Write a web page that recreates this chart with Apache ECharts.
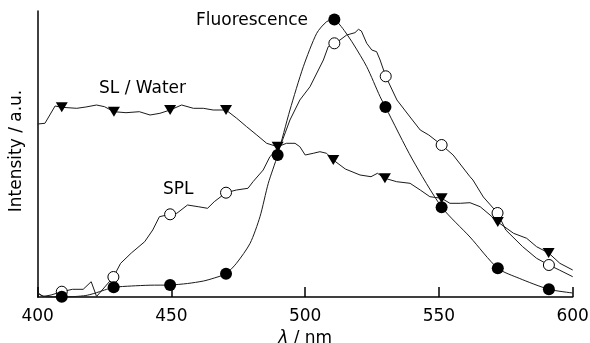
<!DOCTYPE html>
<html>
<head>
<meta charset="utf-8">
<script src="https://cdn.jsdelivr.net/npm/echarts@6/dist/echarts.min.js"></script>
<style>
html,body{margin:0;padding:0;background:#fff;}
#chart{width:590px;height:343px;}
</style>
</head>
<body>
<div id="chart"></div>
<script>
// x tick labels
const xTicks = [400, 450, 500, 550, 600];

// Fluorescence curve (wavelength nm, intensity a.u.)
const fluoLine = [[400,4],[402,1],[405,0.3],[409,0.3],[414,0.5],[418,1.5],[421,3.5],[425,7],[428.4,9.7],[435,11],[442,11.8],[449.5,12],[456,13.5],[462,16],[466,19],[470.4,23.3],[474.3,33.7],[479.4,53.7],[483.1,80.3],[486.2,113.7],[489.7,142],[494.3,187],[499.3,230.3],[504.3,263.7],[508,275.3],[510.9,277.5],[513,272],[515,265],[518,253],[523,230.3],[528,200.3],[530,190],[540,138],[551,90],[561.6,60],[572,28.7],[580,18.7],[591.1,7.7],[600,4]];
const fluoMarks = [[409,0.3],[428.4,9.7],[449.5,12],[470.4,23.3],[489.7,142],[510.9,277.5],[530,190],[551,89.7],[572,28.7],[591.1,7.7]];

// SPL curve
const splLine = [[400,4],[402,0.5],[405,2],[409,5.3],[413,7.7],[417,7.7],[420,15.3],[422,0.5],[428.3,20],[431,33.7],[435,44],[440,55.3],[443,67],[445.5,80.3],[449.5,82.7],[452,83.7],[456,92],[460,90.3],[463.5,88.7],[466,95.3],[470.4,104.3],[474.3,107],[478.6,108.7],[480.5,115.3],[484.3,127],[486.8,140.3],[490.6,150.3],[494.3,177],[498,197],[501.8,210.3],[506.8,237],[508.6,250.3],[510.9,253.7],[513,257],[515.5,262],[518.6,264.3],[519.9,267.7],[521,266],[523,253.7],[524.9,247],[526.7,245.3],[528,237],[530.1,220.7],[534.3,197],[539.2,180],[543,167],[546.2,162],[551,152],[555.3,142],[561.6,120.3],[562.7,117],[566.6,100],[571.9,84],[575,67],[581.3,50.3],[586.5,38.7],[591.1,32],[595,27],[600,20.3]];
const splMarks = [[409,5.3],[428.3,20],[449.5,82.7],[470.4,104.3],[510.9,253.7],[530.1,220.7],[551,152],[571.9,84],[591.1,32]];

// SL / Water curve
const slLine = [[400,173],[402.7,173.7],[406.5,191],[409,189.7],[414.6,188.7],[418,190],[422,192],[425,190.3],[428.5,185.3],[433,184.3],[438,185.3],[442,182],[445.7,183.7],[449.5,187],[453.8,192],[458.2,188.7],[461.9,188.7],[465.6,187],[470.4,187],[474.4,178.7],[478.1,170.3],[481.9,162],[485.6,153.7],[489.7,150.3],[493,153.7],[496.2,153.7],[498,150.3],[500,142],[503,143.7],[505.5,145.3],[508,143.7],[510.5,137],[515,128],[520.5,122],[524.6,120.3],[527,123.7],[529.8,118.7],[534.2,115.3],[539.2,113.7],[543,107],[546.6,100.3],[551,98.7],[554.1,93.7],[558,93.7],[561.6,94.3],[565.4,90.3],[569.1,82],[572,75],[577.9,63.7],[582.8,58.7],[586.5,50.3],[591,44],[595.2,33.7],[600,27]];
const slMarks = [[409,189.7],[428.5,185.3],[449.5,187],[470.4,187],[489.7,150.3],[510.5,137],[529.8,118.7],[551,98.7],[572,75],[591,44]];

const FONT = 'DejaVu Sans';
const FS = 17;
const chart = echarts.init(document.getElementById('chart'), null, {renderer: 'canvas'});
const lineStyle = {color: '#1a1a1a', width: 1};
const txt = (t, x, y, rot) => ({type: 'text', x: x, y: y, rotation: rot || 0,
  style: {text: t, font: FS + 'px "DejaVu Sans"', fill: '#000', textAlign: rot ? 'center' : 'left', textVerticalAlign: 'middle'}});
chart.setOption({
  animation: false,
  backgroundColor: '#fff',
  grid: {left: 37.7, right: 17.3, top: 11, bottom: 46, containLabel: false, outerBoundsMode: 'none'},
  xAxis: {
    type: 'value', min: 400, max: 600, interval: 50,
    axisLine: {lineStyle: {color: '#000', width: 1.5}},
    axisTick: {inside: true, length: 10, lineStyle: {color: '#000', width: 1.5}},
    axisLabel: {color: '#000', fontFamily: FONT, fontSize: FS, margin: 11,
      formatter: v => xTicks.includes(v) ? String(v) : ''},
    splitLine: {show: false},
    name: '{i|λ} / nm', nameLocation: 'middle', nameGap: 28,
    nameTextStyle: {color: '#000', fontFamily: FONT, fontSize: FS,
      rich: {i: {fontStyle: 'italic', fontFamily: FONT, fontSize: FS, color: '#000'}}}
  },
  yAxis: {
    type: 'value', min: 0, max: 286,
    axisLine: {show: true, lineStyle: {color: '#000', width: 1.5}},
    axisTick: {show: false}, axisLabel: {show: false}, splitLine: {show: false}
  },
  graphic: [
    txt('Intensity / a.u.', 17, 151, Math.PI / 2),
    txt('Fluorescence', 196, 21),
    txt('SL / Water', 99, 88.5),
    txt('SPL', 163, 190)
  ],
  series: [
    {type: 'line', data: fluoLine, smooth: 0.25, showSymbol: false, lineStyle: lineStyle, clip: false, z: 2},
    {type: 'line', data: splLine, smooth: false, showSymbol: false, lineStyle: lineStyle, clip: false, z: 2},
    {type: 'line', data: slLine, smooth: false, showSymbol: false, lineStyle: lineStyle, clip: false, z: 2},
    {type: 'scatter', data: splMarks, symbol: 'circle', symbolSize: 11, clip: false, z: 3,
      itemStyle: {color: '#fff', borderColor: '#000', borderWidth: 1, opacity: 1}},
    {type: 'scatter', data: slMarks, symbol: 'triangle', symbolRotate: 180, symbolSize: [12, 10], clip: false, z: 4,
      itemStyle: {color: '#000', opacity: 1}},
    {type: 'scatter', data: fluoMarks, symbol: 'circle', symbolSize: 12, clip: false, z: 5,
      itemStyle: {color: '#000', opacity: 1}}
  ]
});
</script>
</body>
</html>
